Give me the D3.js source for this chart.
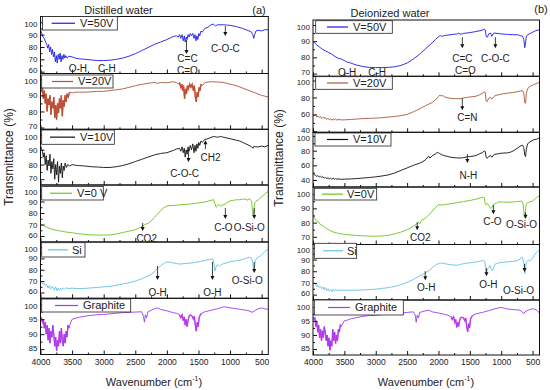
<!DOCTYPE html>
<html>
<head>
<meta charset="utf-8">
<script src="https://cdn.jsdelivr.net/npm/d3@7"></script>
<style>
  body { margin: 0; background: #fff; }
  text { font-family: "Liberation Sans", Arial, sans-serif; fill: #222; }
</style>
</head>
<body>
<script>
// wavenumber ticks
var wnMajor = [4000, 3500, 3000, 2500, 2000, 1500, 1000, 500];
var wnMinor = [3750, 3250, 2750, 2250, 1750, 1250, 750];

// ---- distilled water (a) ----
var L50 = [[4000,94],[3980,91],[3960,88],[3940,87],[3920,84],[3900,82],[3885,79],[3870,82],[3855,76],[3840,80],[3825,74],[3810,78],[3795,72],[3780,76],[3765,68],[3750,73],[3735,67],[3720,74],[3705,70],[3690,75],[3675,68],[3660,73],[3645,70],[3630,74],[3615,71],[3600,73],[3580,71],[3550,72.5],[3500,72],[3450,71],[3400,70.5],[3300,70],[3200,69.5],[3100,69],[3000,69],[2900,69.3],[2800,70],[2700,71],[2600,72.5],[2500,74.5],[2400,77],[2300,79.5],[2200,82],[2100,84],[2000,86],[1900,88.5],[1850,89],[1820,88],[1800,90],[1780,87],[1760,90],[1740,85],[1725,89],[1710,84],[1695,88],[1680,86],[1665,90],[1650,88],[1630,91],[1610,89],[1590,91],[1570,87],[1555,90],[1540,85],[1525,89],[1510,86],[1495,91],[1480,89],[1460,93],[1440,92],[1400,95],[1350,96],[1300,98],[1260,98.5],[1230,97],[1200,98],[1100,98],[1000,97.5],[900,96.5],[800,95],[700,93],[660,92],[640,90],[625,87],[610,90],[590,93],[560,93.5],[500,93],[450,94],[400,94]];
var L20 = [[4000,94],[3985,92],[3970,95],[3955,88],[3940,93],[3925,85],[3910,91],[3895,80],[3880,88],[3865,84],[3850,90],[3835,78],[3820,86],[3805,82],[3790,89],[3775,76],[3760,84],[3745,75],[3730,85],[3715,79],[3700,88],[3685,82],[3670,90],[3655,77],[3640,87],[3625,83],[3610,90],[3595,86],[3580,91],[3560,89],[3540,92],[3500,91.5],[3450,92],[3400,92],[3300,92],[3200,92.2],[3100,92.5],[3000,92.5],[2900,93],[2800,93.5],[2700,94],[2600,95],[2500,96],[2400,96.8],[2300,97.5],[2200,98],[2150,97.5],[2100,98],[2000,97.8],[1900,98.5],[1850,98],[1820,97],[1800,98],[1780,95],[1765,97],[1750,93],[1735,96],[1720,88],[1705,94],[1690,91],[1675,96],[1660,94],[1640,97],[1620,95],[1600,97],[1580,93],[1565,96],[1550,89],[1535,86],[1520,92],[1505,89],[1490,95],[1475,93],[1460,97],[1440,96],[1400,98],[1300,98.5],[1200,98.3],[1100,98],[1000,97],[900,96],[800,94.5],[700,93],[600,91.5],[500,90],[400,89]];
var L10 = [[4000,93],[3985,91],[3970,89],[3955,85],[3940,88],[3925,80],[3910,86],[3895,76],[3880,83],[3865,79],[3850,87],[3835,74],[3820,82],[3805,77],[3790,84],[3775,70],[3760,80],[3745,73],[3730,82],[3715,68],[3700,79],[3685,74],[3670,81],[3655,71],[3640,79],[3625,76],[3610,81],[3590,78],[3570,80],[3540,79],[3500,80],[3450,79.5],[3400,79.3],[3300,79],[3200,78.5],[3100,78.3],[3000,78],[2900,78],[2800,78.5],[2700,79.3],[2600,80.5],[2500,82],[2400,83.5],[2300,85],[2200,86.5],[2100,87.5],[2000,88],[1900,89.5],[1850,90.5],[1800,91],[1780,89],[1760,92],[1740,88],[1725,91],[1710,85],[1695,90],[1680,87],[1665,92],[1650,89],[1630,93],[1610,90],[1590,94],[1570,88],[1555,93],[1540,89],[1525,94],[1510,91],[1495,95],[1480,93],[1460,96],[1440,95],[1400,97],[1350,97.5],[1300,98.5],[1250,99],[1200,98.5],[1150,99],[1100,98.5],[1000,97.5],[900,96.5],[850,96],[800,95],[750,94],[700,93],[660,92],[640,91],[620,92.5],[600,92],[550,92],[500,92.5],[450,92],[400,93]];
var L0 = [[4000,70],[3950,69],[3900,67.5],[3850,66.5],[3800,65.5],[3750,65],[3700,64.5],[3650,64],[3600,63.5],[3500,62.8],[3400,62],[3300,61.5],[3200,61],[3100,60.8],[3000,60.8],[2900,61],[2800,61.8],[2700,63],[2600,64.2],[2500,65.5],[2400,68],[2350,70],[2300,71],[2250,73],[2200,76],[2150,79],[2100,82],[2050,84.5],[2000,86],[1950,86.5],[1900,86.5],[1800,87],[1700,87.5],[1600,88],[1500,88.8],[1400,89.5],[1300,91],[1260,91.5],[1240,88],[1220,85],[1200,86],[1180,87.5],[1150,86],[1120,87],[1080,87.5],[1050,89],[1000,90.5],[950,91],[900,91.5],[850,91.5],[800,92],[750,92],[720,91],[700,92.5],[680,92],[660,90],[645,82],[635,78],[625,83],[610,89],[590,90],[560,91],[520,93],[480,95],[440,97],[400,98.5]];
var LSi = [[4000,70],[3980,69],[3960,67],[3940,68],[3920,66],[3900,67],[3880,64],[3860,66],[3840,63],[3820,65],[3800,64.5],[3780,62],[3760,65],[3740,61.5],[3720,64],[3700,62],[3680,64],[3660,62.5],[3640,64],[3620,63],[3600,64],[3550,63.5],[3500,63.8],[3400,63.5],[3300,63.6],[3200,64],[3100,64.5],[3000,65],[2900,65.5],[2800,66.3],[2700,67.5],[2600,68.5],[2500,70],[2400,72],[2300,74.5],[2250,76],[2200,78],[2150,81],[2100,83.5],[2050,85.5],[2000,87],[1950,86.5],[1900,86],[1850,85.5],[1800,85],[1700,85.5],[1600,86],[1500,87],[1400,88],[1300,89.5],[1270,89],[1250,84],[1240,79],[1225,82],[1200,84.5],[1170,83],[1150,84],[1100,85.5],[1050,86],[1000,87],[950,87.5],[900,88],[850,88.5],[800,89],[750,90],[700,91],[660,90.5],[640,86],[625,79],[615,82],[600,88],[580,90],[550,91],[500,93],[450,96],[400,98]];
var LG = [[4000,96],[3985,95.5],[3970,94],[3955,95],[3940,92],[3925,94],[3910,90],[3895,93],[3880,88],[3865,92],[3850,87],[3835,91],[3820,89],[3805,93],[3790,90],[3775,86],[3760,89],[3745,84.5],[3730,88],[3715,86],[3700,91],[3685,87],[3670,92],[3655,88],[3640,86],[3625,90],[3610,87],[3595,91],[3580,89],[3565,93],[3550,92],[3520,94],[3500,95],[3450,95.3],[3400,95.6],[3300,96],[3200,96.3],[3100,96.5],[3000,96.6],[2900,96.8],[2800,97],[2700,97.2],[2600,97.3],[2500,97.4],[2400,97.5],[2370,96],[2355,94],[2340,96.5],[2320,95.5],[2300,97.5],[2250,98],[2200,98.5],[2150,98.8],[2100,98.3],[2000,97.8],[1950,97.5],[1900,97.2],[1850,97],[1800,96.5],[1780,95.5],[1760,96.5],[1740,94.5],[1725,95.8],[1710,93],[1695,95],[1680,92.5],[1665,94.5],[1650,96],[1630,96.5],[1600,96],[1580,95],[1565,96],[1550,93],[1535,91],[1520,94],[1505,92.5],[1490,95.5],[1470,96.5],[1450,97],[1400,97.5],[1300,98],[1200,98.5],[1100,99.2],[1050,99],[1000,98.8],[900,98.5],[800,98.2],[700,97.8],[650,97.3],[600,98],[550,98.5],[500,98.8],[450,98.5],[400,98.3]];

// ---- deionized water (b) ----
var R50 = [[4000,90],[3950,88],[3900,86.5],[3850,85],[3800,84],[3750,83],[3700,82],[3650,80.5],[3600,79.5],[3550,79],[3500,78],[3450,77],[3400,76.5],[3350,75.8],[3300,75.2],[3200,74.3],[3100,73.8],[3000,73.7],[2900,73.7],[2800,73.8],[2700,74.2],[2600,75],[2500,76.5],[2400,79],[2300,82],[2200,85.5],[2100,89],[2050,91],[2000,92.7],[1970,93.5],[1950,93],[1900,93.5],[1850,93.8],[1800,94],[1750,94.3],[1700,94.5],[1680,95],[1650,94.3],[1600,94.8],[1500,95.3],[1400,96],[1300,96.8],[1270,97.5],[1255,97],[1240,93],[1220,92.5],[1200,94.5],[1170,95],[1150,93],[1120,95],[1100,95],[1000,94.5],[900,94.2],[800,94],[740,94],[700,93.5],[660,93],[640,91],[625,86],[615,88],[600,93],[580,94],[550,94.5],[500,95.5],[450,96.5],[400,97],[390,96.5]];
var R20 = [[4000,59],[3980,58],[3960,59.5],[3940,57],[3920,58],[3900,56.5],[3880,57.5],[3860,55],[3840,56.5],[3820,55.5],[3800,56],[3780,54],[3760,55.5],[3740,53.5],[3720,55],[3700,53],[3680,54.5],[3660,53.5],[3640,54.8],[3620,53],[3600,54],[3550,53.5],[3500,53.5],[3400,54],[3300,54.5],[3200,55],[3100,55.3],[3000,55.6],[2900,56],[2800,56.8],[2700,57.5],[2600,58.5],[2500,60],[2400,63],[2300,66.5],[2200,70.5],[2100,74],[2050,77],[2000,81],[1980,83],[1960,81.5],[1940,82.5],[1900,80.5],[1850,79.5],[1800,79],[1750,78.5],[1700,78.7],[1650,78.5],[1600,79.5],[1550,80],[1500,80.5],[1450,81],[1400,81.5],[1350,83],[1300,85],[1270,86.5],[1255,86],[1240,76],[1225,75],[1200,79],[1170,80],[1150,78],[1130,80],[1100,82],[1000,84],[900,85],[800,86],[700,87.5],[660,88],[640,85],[625,74],[612,73],[600,85],[580,90],[550,93],[500,94.5],[480,95.5],[450,96],[420,97],[400,97.5],[390,97]];
var R10 = [[4000,49],[3980,47],[3960,46.5],[3940,45],[3920,46],[3900,44],[3880,45],[3860,43.5],[3840,44.5],[3820,42.5],[3800,43.5],[3780,42],[3760,43],[3740,41.5],[3720,42.5],[3700,41],[3680,42.5],[3660,41],[3640,42],[3620,41],[3600,41.5],[3550,41],[3500,41.2],[3400,41.5],[3300,42],[3200,42.7],[3100,43.5],[3000,44.3],[2900,45.5],[2800,47],[2700,49.5],[2600,53],[2500,56.5],[2400,60],[2300,63],[2250,65],[2200,68],[2170,71.5],[2155,72.5],[2140,70],[2120,71],[2100,73],[2050,75.5],[2020,77.5],[2000,77],[1980,76],[1950,74.5],[1900,73],[1850,72],[1800,71],[1750,70.5],[1700,70],[1650,70],[1600,70.5],[1550,71.5],[1500,72],[1450,72.5],[1400,73.5],[1350,75.5],[1300,77.5],[1270,79.5],[1255,79],[1240,71],[1225,69.5],[1200,72],[1170,73.5],[1150,71],[1120,74],[1100,75],[1000,76.5],[900,77],[850,78],[800,80],[750,83],[700,86],[660,87.5],[640,84],[625,74],[612,72],[600,82],[580,89],[560,91],[520,93],[480,95],[440,95.5],[400,97],[390,96.5]];
var R0 = [[4000,85],[3970,83],[3940,81],[3910,80.5],[3880,78.5],[3850,78],[3820,77],[3790,76],[3760,75.2],[3730,74.5],[3700,73.7],[3650,73],[3600,72.5],[3550,72],[3500,71.8],[3400,71.3],[3300,71],[3200,70.7],[3100,70.5],[3000,70.4],[2900,70.6],[2800,71],[2700,72],[2600,73.3],[2500,75],[2450,76],[2400,77.5],[2350,79],[2320,80],[2300,79],[2280,81],[2200,83.5],[2150,85.5],[2100,88],[2050,90.5],[2000,92.5],[1950,92.3],[1900,92.6],[1800,93.3],[1700,94],[1600,94.8],[1500,95.5],[1400,96.5],[1320,97.5],[1290,98],[1270,97.5],[1255,93],[1240,92.5],[1220,93.5],[1200,92],[1170,90],[1150,90.5],[1120,93],[1080,93.5],[1050,94.5],[1000,94.5],[900,94.3],[800,94.5],[740,94.8],[700,95],[670,95],[650,92.5],[635,86],[625,83.5],[615,88],[600,93],[580,94],[550,94.5],[500,95],[470,96.5],[440,97.5],[400,98.5],[390,98.3]];
var RSi = [[4000,71],[3980,70],[3960,69],[3940,67],[3920,68],[3900,66],[3880,67],[3860,65],[3840,66.5],[3820,64],[3800,66],[3780,63.5],[3760,65],[3740,63],[3720,64.5],[3700,62.5],[3680,64.5],[3660,63],[3640,64.5],[3620,63.5],[3600,64],[3550,63.8],[3500,63.8],[3400,63.7],[3300,63.8],[3200,64],[3100,64.3],[3000,64.7],[2900,65.3],[2800,66],[2700,67],[2600,68.5],[2500,70.5],[2400,73],[2300,76],[2200,79],[2150,80.5],[2100,83],[2050,85],[2000,86.7],[1950,87],[1900,86.5],[1850,86],[1800,85.5],[1750,85.3],[1700,85.2],[1650,85.8],[1600,86.5],[1550,87],[1500,87.2],[1400,88],[1300,89],[1280,89.5],[1260,88],[1245,80],[1235,78],[1225,81],[1200,83],[1180,85],[1160,82],[1140,80.5],[1120,83],[1100,86],[1050,87],[1000,87.5],[900,88],[800,88.5],[750,89],[700,90.5],[680,92],[660,92],[640,87],[625,78],[615,80],[600,88],[580,89],[560,89.5],[540,89],[500,91],[470,94],[440,96],[410,97.5],[390,97]];
var RG = [[4000,96.5],[3985,95.5],[3970,96],[3955,93],[3940,95],[3925,91],[3910,93.5],[3895,89],[3880,92],[3865,88],[3850,91.5],[3835,89],[3820,93],[3805,91],[3790,88],[3775,90],[3760,86],[3745,89],[3730,84.6],[3715,88],[3700,86],[3685,92],[3670,88],[3655,91],[3640,87],[3625,90],[3610,88],[3595,92],[3580,91],[3565,93.5],[3550,93],[3500,95],[3450,95.3],[3400,95.7],[3300,96.2],[3200,96.6],[3100,96.9],[3000,97],[2900,97.2],[2800,97.4],[2700,97.6],[2600,97.8],[2500,98],[2400,98.2],[2370,97],[2355,94.5],[2340,97],[2320,96],[2300,98],[2200,98.6],[2150,98.8],[2100,98.2],[2000,97.8],[1900,97.3],[1850,97],[1800,96.5],[1780,95.5],[1760,96.5],[1740,94.5],[1725,95.5],[1710,92.7],[1695,94.5],[1680,93],[1665,95],[1650,96],[1630,96.3],[1600,96],[1580,95],[1565,96],[1550,93],[1535,91.1],[1520,94],[1505,92.5],[1490,95.5],[1470,96.5],[1450,97],[1400,97.5],[1300,98],[1200,98.6],[1100,99.3],[1000,99.8],[950,99.5],[900,99.2],[800,99],[700,98.8],[660,98],[640,97.5],[620,98.3],[600,98.5],[550,99],[500,99.3],[450,99],[420,98.5],[400,98],[390,97.5]];

// band labels: [plot, text, wavenumber, T]
var labels = [
  [0,"O-H",3409,63],[0,"C-H",2951,63],[0,"C=C",1674,71.1],[0,"C=O",1674,61.4],[0,"C-O-C",1075,79.2],
  [2,"C-O-C",1720,74.3],[2,"CH2",1310,84.8],
  [3,"CO2",2320,58.3],[3,"C-O",1106,67.8],[3,"O-Si-O",695,67.8],
  [4,"O-H",2147,60.3],[4,"O-H",1279,60.3],[4,"O-Si-O",727,71],
  [6,"O-H",3457,70.8],[6,"C-H",2978,70.8],[6,"C=C",1620,79.5],[6,"C=O",1572,72],[6,"C-O-C",1093,79.5],
  [7,"C=N",1540,56.4],
  [8,"N-H",1524,46.8],
  [9,"CO2",2291,69.7],[9,"C-O",1141,81],[9,"O-Si-O",677,78.9],
  [10,"O-H",2195,66.1],[10,"O-H",1204,68.8],[10,"O-Si-O",725,63.5]
];
// arrows: [plot, wavenumber, T from, T to]
var arrows = [
  [0,1690,85.7,74.3],[0,1075,97,88.9],
  [2,1658,89.8,81.7],[2,1390,90.5,96.5],
  [3,2383,71.3,64.3],[3,1075,84.3,74.8],[3,617,84.3,74.8],
  [4,2147,83.4,70.9],[4,1279,86.9,70.9],[4,617,86.9,77.2],
  [6,1620,92.5,85.7],[6,1093,92.5,85.7],
  [7,1620,79.2,64.8],
  [8,1540,75.4,63.2],
  [9,2339,80.3,74.6],[9,1125,92.3,85.9],[9,613,87.2,82.7],
  [10,2211,80.1,72.3],[10,1236,82.8,75.8],[10,629,86.3,79.3]
];

var panels = [
  {range: [40.5, 268.3], domain: [4000, 395], title: "Distilled water", tx: 118.5, ty: 14, tag: "(a)", gx: 259, gy: 10, ytx: 13, yty: 157, xtx: 154},
  {range: [313, 539.5], domain: [4000, 390], title: "Deionized water", tx: 390, ty: 17, tag: "(b)", gx: 541, gy: 9, ytx: 283, yty: 158, xtx: 426}
];

var plots = [
  {p:0, top:16.5, bot:73.5, dom:[58.5,104.7], ticks:[60,70,80,90,100], minor:5, data:L50, color:"#1c1cea", name:"V=50V", leg:[42.5,117.3,16.5,30,51.7,75,80]},
  {p:0, top:73.5, bot:129.3, dom:[68.9,103.6], ticks:[70,80,90,100], minor:5, data:L20, color:"#a8593a", over:"#e8241c", name:"V=20V", leg:[41.7,113,75,88,52,73,78]},
  {p:0, top:129.3, bot:185, dom:[66.1,103.9], ticks:[70,80,90,100], minor:5, data:L10, color:"#111", name:"V=10V", leg:[41.7,114.3,130,144.3,50,75,80]},
  {p:0, top:185, bot:242, dom:[54.8,104.3], ticks:[60,70,80,90,100], minor:5, data:L0, color:"#6cc41e", name:"V=0 V", leg:[41.7,103.3,186.5,200,50,72,77]},
  {p:0, top:242, bot:298.3, dom:[54.9,104.4], ticks:[60,70,80,90,100], minor:5, data:LSi, color:"#62c2e6", name:"Si", leg:[41.7,85,242.7,257,48,68,72]},
  {p:0, top:298.3, bot:354.5, dom:[83.2,102], ticks:[85,90,95,100], minor:2.5, data:LG, color:"#9a3cf0", over:"#f032d8", name:"Graphite", leg:[41.7,130.7,299,312,55,78,83]},
  {p:1, top:20, bot:76.3, dom:[68.3,103.1], ticks:[70,80,90,100], minor:5, data:R50, color:"#1c1cea", name:"V=50V", leg:[315.7,392.3,20.7,33.3,327,348,353]},
  {p:1, top:76.3, bot:132.3, dom:[38.8,105], ticks:[40,60,80,100], minor:10, data:R20, color:"#a8593a", name:"V=20V", leg:[315.7,392.3,76.7,89.3,327,348,353]},
  {p:1, top:132.3, bot:187, dom:[30.5,105], ticks:[40,60,80,100], minor:10, data:R10, color:"#111", name:"V=10V", leg:[315,391,133,146,327,348,353]},
  {p:1, top:187, bot:244.5, dom:[64.6,105], ticks:[70,80,90,100], minor:5, data:R0, color:"#6cc41e", name:"V=0V", leg:[314.3,376.7,188.3,200,322,343,347]},
  {p:1, top:244.5, bot:300, dom:[55.4,102.9], ticks:[60,70,80,90,100], minor:5, data:RSi, color:"#62c2e6", name:"Si", leg:[314.3,356.7,243.3,258.3,323,343,347]},
  {p:1, top:300, bot:355, dom:[82.9,102.4], ticks:[85,90,95,100], minor:2.5, data:RG, color:"#9a3cf0", over:"#f032d8", name:"Graphite", leg:[314.3,403.3,300,315,328,350,355]}
];

var noisy = [[3995, 3530], [1810, 1445]];

var svg = d3.select("body").append("svg")
    .attr("width", 550)
    .attr("height", 390);

panels.forEach(function(pn) {
  pn.x = d3.scaleLinear().domain(pn.domain).range(pn.range);
  svg.append("text").attr("x", pn.tx).attr("y", pn.ty)
      .attr("text-anchor", "middle").style("font-size", "11px").text(pn.title);
  svg.append("text").attr("x", pn.gx).attr("y", pn.gy).attr("dy", "0.35em")
      .attr("text-anchor", "middle").style("font-size", "11px").text(pn.tag);
  svg.append("text")
      .attr("transform", "translate(" + pn.ytx + "," + pn.yty + ") rotate(-90)")
      .attr("text-anchor", "middle").style("font-size", "12px").text("Transmittance (%)");
  var xt = svg.append("text").attr("x", pn.xtx).attr("y", 386)
      .attr("text-anchor", "middle").style("font-size", "11px");
  xt.append("tspan").text("Wavenumber (cm");
  xt.append("tspan").attr("dy", "-5").style("font-size", "7px").text("-1");
  xt.append("tspan").attr("dy", "5").text(")");
});

plots.forEach(function(d, i) {
  var pn = panels[d.p];
  var x = pn.x;
  var y = d3.scaleLinear().domain(d.dom).range([d.bot, d.top]);
  d.y = y;
  var g = svg.append("g");

  g.append("clipPath").attr("id", "clip" + i)
    .append("rect")
      .attr("x", pn.range[0]).attr("y", d.top)
      .attr("width", pn.range[1] - pn.range[0]).attr("height", d.bot - d.top);

  var line = d3.line().x(function(v) { return x(v[0]); }).y(function(v) { return y(v[1]); });
  var lines = g.append("g").attr("clip-path", "url(#clip" + i + ")");

  if (d.over) {
    noisy.forEach(function(r) {
      var part = d.data.filter(function(v) { return v[0] <= r[0] && v[0] >= r[1]; });
      lines.append("path").datum(part).attr("d", line)
          .attr("fill", "none").attr("stroke", d.over).attr("stroke-width", 1.4).attr("opacity", 0.85);
    });
  }
  lines.append("path").datum(d.data).attr("d", line)
      .attr("fill", "none").attr("stroke", d.color).attr("stroke-width", 0.9)
      .attr("stroke-linejoin", "round");

  // y axis
  var ya = g.append("g").attr("transform", "translate(" + pn.range[0] + ",0)")
      .call(d3.axisLeft(y).tickValues(d.ticks).tickSize(-4).tickPadding(3).tickFormat(d3.format("d")));
  // keep the labels at a subplot seam from sitting on each other
  ya.selectAll(".tick text").attr("dy", function(v) {
    if (y(v) - d.top < 6) return "0.55em";
    if (d.bot - y(v) < 6) return "0.15em";
    return "0.32em";
  });
  var mt = d3.range(d.ticks[0] - d.minor, d.dom[1], d.minor)
      .filter(function(v) { return v > d.dom[0] && d.ticks.indexOf(v) < 0; });
  g.append("g").attr("transform", "translate(" + pn.range[0] + ",0)")
      .call(d3.axisLeft(y).tickValues(mt).tickSize(-2).tickFormat(""));

  // x axis
  var xa = g.append("g").attr("transform", "translate(0," + d.bot + ")")
      .call(d3.axisBottom(x).tickValues(wnMajor).tickSize(-4).tickPadding(4).tickFormat(d3.format("d")));
  if (i !== 5 && i !== 11) xa.selectAll("text").remove();
  g.append("g").attr("transform", "translate(0," + d.bot + ")")
      .call(d3.axisBottom(x).tickValues(wnMinor).tickSize(-2).tickFormat(""));

  g.selectAll(".domain").remove();
  g.selectAll(".tick line").attr("stroke", "#111");
  g.selectAll(".tick text").style("font-size", "8px").style("font-family", "Liberation Sans, Arial, sans-serif").attr("fill", "#333");
  xa.selectAll(".tick text").style("font-size", "8.5px");

  g.append("rect")
      .attr("x", pn.range[0]).attr("y", d.top)
      .attr("width", pn.range[1] - pn.range[0]).attr("height", d.bot - d.top)
      .attr("fill", "none").attr("stroke", "#111").attr("stroke-width", 1);

  // legend
  var L = d.leg;
  g.append("rect").attr("x", L[0]).attr("y", L[2]).attr("width", L[1] - L[0]).attr("height", L[3] - L[2])
      .attr("fill", "#fff").attr("stroke", "#222").attr("stroke-width", 0.8);
  g.append("line").attr("x1", L[4]).attr("x2", L[5])
      .attr("y1", (L[2] + L[3]) / 2).attr("y2", (L[2] + L[3]) / 2)
      .attr("stroke", d.color).attr("stroke-width", 1.2);
  g.append("text").attr("x", L[6]).attr("y", (L[2] + L[3]) / 2).attr("dy", "0.36em")
      .style("font-size", "11px").text(d.name);
});

labels.forEach(function(l) {
  var d = plots[l[0]], x = panels[d.p].x;
  svg.append("text").attr("x", x(l[2])).attr("y", d.y(l[3])).attr("dy", "0.36em")
      .attr("text-anchor", "middle").style("font-size", "10px").text(l[1]);
});

arrows.forEach(function(a) {
  var d = plots[a[0]], x = panels[d.p].x;
  var px = x(a[1]), y1 = d.y(a[2]), y2 = d.y(a[3]);
  var dir = y2 > y1 ? 1 : -1;
  svg.append("line").attr("x1", px).attr("x2", px).attr("y1", y1).attr("y2", y2 - dir * 3)
      .attr("stroke", "#111").attr("stroke-width", 0.8);
  svg.append("path")
      .attr("d", "M" + (px - 2) + "," + (y2 - dir * 4) + "L" + (px + 2) + "," + (y2 - dir * 4) + "L" + px + "," + y2 + "Z")
      .attr("fill", "#111");
});
</script>
</body>
</html>
